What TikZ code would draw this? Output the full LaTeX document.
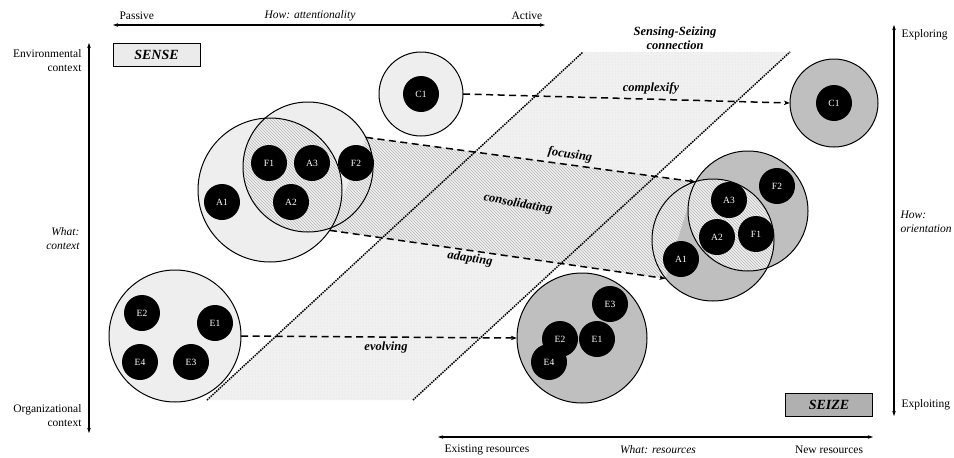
\documentclass[tikz,border=0pt]{standalone}
\usepackage{fontspec}
\setmainfont{Liberation Serif}
\usetikzlibrary{arrows.meta,positioning,patterns}

\begin{document}
\begin{tikzpicture}[
    x=1pt, y=-1pt,
    font=\fontsize{11.5}{14}\selectfont,
    zone/.style={circle, inner sep=0pt},
    sensezone/.style={zone, fill=gray!13},
    seizezone/.style={zone, fill=gray!50},
    item/.style={circle, fill=black, text=white, minimum size=36pt, inner sep=0pt, font=\fontsize{9.5}{10}\selectfont},
    ring/.style={line width=1pt},
    hatch/.style={pattern=north west lines, pattern color=gray!58},
    stage/.style={draw, line width=1pt, minimum width=87pt, minimum height=23pt, font=\fontsize{14}{15}\selectfont\bfseries\itshape},
    axis/.style={{Stealth[length=5pt,width=3.5pt]}-{Stealth[length=5pt,width=3.5pt]}, line width=1.1pt},
    flow/.style={-{Stealth[length=6pt,width=4.5pt]}, line width=1.5pt, dash pattern=on 7pt off 4.5pt},
    flowlabel/.style={font=\fontsize{12.5}{14}\selectfont\bfseries\itshape},
    bridge/.style={line width=1.5pt, densely dotted}
  ]
  \useasboundingbox (0,0) rectangle (954,458);

  % Sensing-seizing connection band
  \fill[gray!11] (207,400) -- (583,52) -- (790,52) -- (413,400) -- cycle;
  \fill[pattern=dots, pattern color=gray!28] (207,400) -- (583,52) -- (790,52) -- (413,400) -- cycle;
  \node[flowlabel, align=center] (connect) at (675,38) {Sensing-Seizing\\connection};

  % Big circles (sense side)
  \node[sensezone, minimum size=84pt] (C1s) at (421,94) {};
  \node[sensezone, minimum size=144pt] (As) at (270,190) {};
  \node[sensezone, minimum size=130pt] (Fs) at (308,167) {};
  \node[sensezone, minimum size=132pt] (Es) at (175,336) {};

  % Big circles (seize side)
  \node[seizezone, minimum size=88pt] (C1z) at (834,103) {};
  \node[seizezone, minimum size=122pt] (Az) at (713,240) {};
  \node[seizezone, minimum size=120pt] (Fz) at (748,211) {};
  \node[seizezone, minimum size=130pt] (Ez) at (582,338) {};

  % Consolidating band
  \fill[gray!12] (Fs.27) -- (Fz.151) -- (Az.219) -- (As.-34) -- cycle;
  \fill[hatch] (Fs.27) -- (Fz.151) -- (Az.219) -- (As.-34) -- cycle;

  % Overlaps
  \begin{scope}
    \clip (As.center) circle[radius=72];
    \fill[gray!12] (Fs.center) circle[radius=65];
    \fill[hatch] (Fs.center) circle[radius=65];
  \end{scope}
  \begin{scope}
    \clip (Az.center) circle[radius=61];
    \fill[gray!12] (Fz.center) circle[radius=60];
    \fill[hatch] (Fz.center) circle[radius=60];
  \end{scope}

  % Dotted borders of the connection
  \draw[bridge] (207,400) -- (583,52);
  \draw[bridge] (413,400) -- (790,52);

  % Outlines
  \draw[ring] (C1s.center) circle[radius=42];
  \draw[ring] (As.center) circle[radius=72];
  \draw[ring] (Fs.center) circle[radius=65];
  \draw[ring] (Es.center) circle[radius=66];
  \draw[ring] (C1z.center) circle[radius=44];
  \draw[ring] (Az.center) circle[radius=61];
  \draw[ring] (Fz.center) circle[radius=60];
  \draw[ring] (Ez.center) circle[radius=65];

  % Capabilities, sense side
  \node[item] (c1a) at (421,94) {C1};
  \node[item] (f1a) at (269,163) {F1};
  \node[item] (a3a) at (312,163) {A3};
  \node[item] (f2a) at (356,163) {F2};
  \node[item] (a1a) at (222,202) {A1};
  \node[item] (a2a) at (291,202) {A2};
  \node[item] (e2a) at (142,313) {E2};
  \node[item] (e1a) at (215,323) {E1};
  \node[item] (e4a) at (140,362) {E4};
  \node[item] (e3a) at (191,362) {E3};

  % Capabilities, seize side
  \node[item] (c1b) at (834,103) {C1};
  \node[item] (a3b) at (729,200) {A3};
  \node[item] (f2b) at (777,186) {F2};
  \node[item] (a2b) at (717,237) {A2};
  \node[item] (f1b) at (756,234) {F1};
  \node[item] (a1b) at (681,259) {A1};
  \node[item] (e3b) at (610,304) {E3};
  \node[item] (e4b) at (549,362) {E4};
  \node[item] (e2b) at (560,339) {E2};
  \node[item] (e1b) at (597,339) {E1};

  % Flows
  \draw[flow] (C1s.east) -- (C1z.west);
  \draw[flow] (Fs.27) -- (Fz.151);
  \draw[flow] (As.-34) -- (Az.219);
  \draw[flow] (Es.east) -- (Ez.west);

  \node[flowlabel] (complexify) at (651,88) {complexify};
  \node[flowlabel, rotate=-8] (focusing) at (570,155) {focusing};
  \node[flowlabel, rotate=-10] (consolidating) at (518,204) {consolidating};
  \node[flowlabel, rotate=-8] (adapting) at (470,259) {adapting};
  \node[flowlabel] (evolving) at (386,347) {evolving};

  % Stages
  \node[stage, fill=gray!16] (sense) at (156.5,54.5) {SENSE};
  \node[stage, fill=gray!62] (seize) at (829,404.5) {SEIZE};

  % Axes
  \coordinate (passive) at (113,25);
  \coordinate (active) at (545,25);
  \coordinate (envtop) at (89,43);
  \coordinate (orgbot) at (89,433);
  \coordinate (explore) at (894,25);
  \coordinate (exploit) at (894,416);
  \coordinate (existing) at (438,437);
  \coordinate (newres) at (873,437);
  \draw[axis] (passive) -- (active);
  \draw[axis] (envtop) -- (orgbot);
  \draw[axis] (explore) -- (exploit);
  \draw[axis] (existing) -- (newres);

  % Axis texts
  \node[anchor=west] (passivetext) at (116,16) {Passive};
  \node (attention) at (310,16) {\itshape How: attentionality};
  \node (activetext) at (527,16) {Active};
  \node[anchor=east, align=right] (envtext) at (85,61) {Environmental\\context};
  \node[anchor=east, align=right] (whatcontext) at (83,239) {\itshape What:\\\itshape context};
  \node[anchor=east, align=right] (orgtext) at (85,416) {Organizational\\context};
  \node[anchor=west] (exploretext) at (898,35) {Exploring};
  \node[anchor=west, align=left] (orientation) at (897,222) {\itshape How:\\\itshape orientation};
  \node[anchor=west] (exploittext) at (898,405) {Exploiting};
  \node (existingtext) at (487,450) {Existing resources};
  \node (whatresources) at (658,450) {\itshape What: resources};
  \node (newtext) at (829,450) {New resources};

\end{tikzpicture}
\end{document}
